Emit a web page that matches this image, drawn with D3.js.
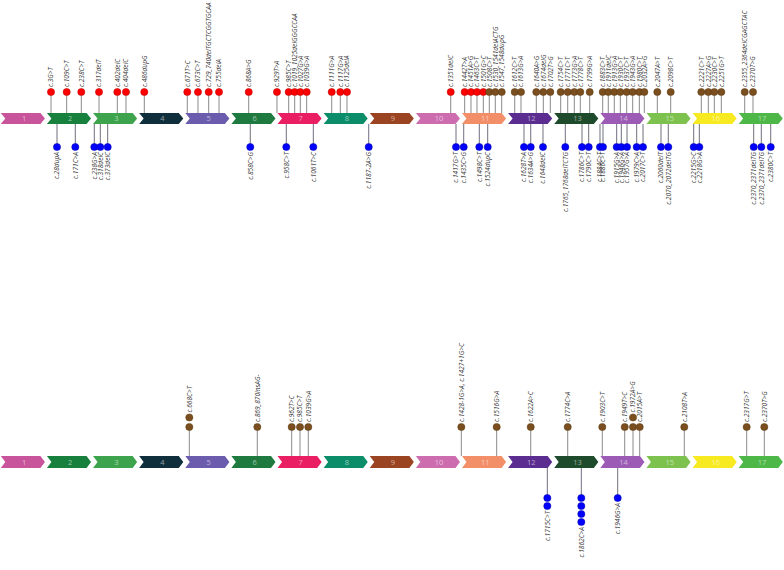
<!DOCTYPE html>
<html><head><meta charset="utf-8">
<script src="https://cdn.jsdelivr.net/npm/d3@7"></script>
<style>body{margin:0;background:#fff}svg{display:block}</style>
</head><body>
<script>
// ---------- DATA ----------
const exonLabels = ["1","2","3","4","5","6","7","8","9","10","11","12","13","14","15","16","17"];
const exonColors = ["#c8559b","#17803d","#3da44d","#0f2f3c","#6b5cae","#1f7a40","#e91e63","#0a8d68","#9b4422","#cd6db0","#f38f68","#5c2d91","#1d4b2b","#9c5bb5","#7dc24f","#f8ea20","#4db848"];

// Panel A (upper track) – variants above the gene (gene-axis position in exon units)
const upperAboveNames = ["c.3G>T","c.109C>T","c.238C>T","c.317delT","c.402delC","c.404delC","c.486dupG",
 "c.671T>C","c.673C>T","c.729_740delTGCTCGGTGCAA","c.755delA","c.868A>G","c.929T>A","c.985C>T",
 "c.1019_1025delGGGCCAA","c.1027G>A","c.1039G>A","c.1111G>A","c.1117G>A","c.1125delA","c.1351delC",
 "c.1442T>A","c.1451A>G","c.1463C>T","c.1501G>C","c.1508C>T","c.1530_1541delACTG","c.1547_1548dupG",
 "c.1612C>T","c.1613G>A","c.1640A>G","c.1674delG","c.1702T>G","c.1754C>T","c.1771C>T","c.1773G>A",
 "c.1778C>T","c.1799G>A","c.1883C>T","c.1911delC","c.1913G>A","c.1930C>T","c.1937C>T","c.1943G>A",
 "c.1980C>T","c.2032A>G","c.2047A>T","c.2098C>T","c.2221C>T","c.2227A>G","c.2230C>T","c.2251G>T",
 "c.2355_2364delCGAGCTAC","c.2370T>G"];
const upperAbovePos = [1.106,1.446,1.763,2.147,2.544,2.732,3.129,
 4.061,4.293,4.525,4.749,5.393,6.006,6.260,
 6.390,6.512,6.650,7.193,7.379,7.524,9.773,
 10.076,10.213,10.343,10.480,10.610,10.740,10.879,
 11.161,11.297,11.629,11.781,11.933,12.158,12.310,12.453,
 12.583,12.787,13.069,13.190,13.320,13.451,13.589,13.719,
 13.863,13.971,14.253,14.543,15.207,15.359,15.489,15.641,
 16.148,16.328];
const upperAboveGroup = ["S1","S1","S1","S1","S1","S1","S1","S1","S1","S1","S1","S1","S1","S1","S1","S1","S1","S1","S1","S1","S1","S1","S1","S1","S1",
 "S2","S2","S2","S2","S2","S2","S2","S2","S2","S2","S2","S2","S2","S2","S2","S2","S2","S2","S2","S2","S2","S2","S2","S2","S2","S2","S2","S2","S2"];

// Panel A – variants below the gene
const upperBelowNames = ["c.28dupA","c.171C>A","c.238G>A","c.318delC","c.373delC","c.858C>G","c.958C>T",
 "c.1061T>C","c.1187-2A>G","c.1417G>T","c.1435C>G","c.1498C>T","c.1524dupC","c.1628T>A","c.1634A>G",
 "c.1648delC","c.1765_1768delTCTG","c.1786C>T","c.1790C>T","c.1884C>T","c.1886C>T","c.1915G>A",
 "c.1946G>A","c.1957G>A","c.1979C>A","c.2017C>T","c.2060delT","c.2070_2072delTG","c.2215G>C",
 "c.2218G>A","c.2370_2371delTG","c.2370_2371delTG","c.2380C>T"];
const upperBelowPos = [1.236,1.633,2.045,2.175,2.335,5.427,6.208,
 6.794,7.995,9.888,10.055,10.393,10.575,11.362,11.508,
 11.774,12.258,12.620,12.765,13.010,13.075,13.372,
 13.472,13.596,13.806,13.943,14.333,14.491,15.042,
 15.164,16.343,16.508,16.712];

// Panel B (lower track) – variants above with carrier counts
const lowerAboveNames = ["c.668C>T","c.869_870insAG-","c.962T>C","c.985C>T","c.1039G>A","c.1428-1G>A, c.1427+1G>C",
 "c.1516G>A","c.1622A>C","c.1774C>A","c.1903C>T","c.1949T>C","c.1972A>G","c.2015A>T","c.2108T>A","c.2317G>T","c.2370T>G"];
const lowerAbovePos = [4.105,5.579,6.325,6.505,6.685,10.003,10.770,11.508,12.310,13.060,13.546,13.726,13.871,14.838,16.191,16.573];
const lowerAboveCount = [2,1,1,1,1,1,1,1,1,1,1,2,1,1,1,1];

// Panel B – variants below with carrier counts
const lowerBelowNames = ["c.1715C>T","c.1862C>A","c.1946G>A"];
const lowerBelowPos = [11.868,12.605,13.394];
const lowerBelowCount = [2,4,1];

// ---------- DRAW ----------
const W = 784, H = 570;
const svg = d3.select("body").append("svg").attr("width", W).attr("height", H);
const x = d3.scaleLinear().domain([0, 17]).range([0, 784]);
const color = d3.scaleOrdinal().domain(exonLabels).range(exonColors);
const dotColor = d3.scaleOrdinal().domain(["S1","S2","B"]).range(["#ff0000","#7a4e1e","#0000ff"]);
const dotStroke = d3.scaleOrdinal().domain(["S1","S2","B"]).range(["#b00000","#5a3810","#0000a0"]);

const FONT = "'Open Sans', 'DejaVu Sans', sans-serif";
const R = 3.6;
const FS = 6.6;

function drawGene(g, top, h) {
  const t = 4.5;
  const mid = top + h / 2, bot = top + h;
  g.selectAll("path.exon").data(exonLabels).join("path")
    .attr("class", "exon")
    .attr("d", (d, i) => {
      const x0 = x(i) + 0.8, x1 = x(i + 1) - 1.2;
      return d3.line()([[x0, top], [x1 - t, top], [x1, mid], [x1 - t, bot], [x0, bot], [x0 + t, mid]]) + "Z";
    })
    .attr("fill", d => color(d));
  g.selectAll("text.exl").data(exonLabels).join("text")
    .attr("class", "exl")
    .attr("x", (d, i) => x(i + 0.5) + 1)
    .attr("y", mid)
    .attr("dy", "0.35em")
    .attr("text-anchor", "middle")
    .attr("font-family", FONT)
    .attr("font-size", 7.5)
    .attr("fill", "rgba(255,255,255,0.55)")
    .text(d => d);
}

function drawAbove(g, names, pos, groups, counts, barTop, dotY, step) {
  const data = names.map((n, i) => ({ n, p: pos[i], g: groups[i], c: counts ? counts[i] : 1 }));
  const stem = g.append("g");
  stem.selectAll("line").data(data).join("line")
    .attr("x1", d => x(d.p)).attr("x2", d => x(d.p))
    .attr("y1", dotY).attr("y2", barTop)
    .attr("stroke", "#8a8a8a").attr("stroke-width", 1);
  data.forEach(d => {
    for (let k = 0; k < d.c; k++) {
      g.append("circle").attr("cx", x(d.p)).attr("cy", dotY - k * step).attr("r", R)
        .attr("fill", dotColor(d.g)).attr("stroke", dotStroke(d.g)).attr("stroke-width", 0.5);
    }
  });
  g.selectAll("text.lab").data(data).join("text")
    .attr("class", "lab")
    .attr("transform", d => `translate(${x(d.p)},${dotY - (d.c - 1) * step - 5}) rotate(-90)`)
    .attr("dy", "0.35em")
    .attr("text-anchor", "start")
    .attr("font-family", FONT).attr("font-style", "italic")
    .attr("font-size", FS).attr("fill", "#333")
    .text(d => d.n);
}

function drawBelow(g, names, pos, counts, barBot, dotY, step) {
  const data = names.map((n, i) => ({ n, p: pos[i], c: counts ? counts[i] : 1 }));
  g.append("g").selectAll("line").data(data).join("line")
    .attr("x1", d => x(d.p)).attr("x2", d => x(d.p))
    .attr("y1", barBot).attr("y2", dotY)
    .attr("stroke", "#6f6f80").attr("stroke-width", 1);
  data.forEach(d => {
    for (let k = 0; k < d.c; k++) {
      g.append("circle").attr("cx", x(d.p)).attr("cy", dotY + k * step).attr("r", R)
        .attr("fill", dotColor("B")).attr("stroke", dotStroke("B")).attr("stroke-width", 0.5);
    }
  });
  g.selectAll("text.lab").data(data).join("text")
    .attr("class", "lab")
    .attr("transform", d => `translate(${x(d.p)},${dotY + (d.c - 1) * step + 5}) rotate(-90)`)
    .attr("dy", "0.35em")
    .attr("text-anchor", "end")
    .attr("font-family", FONT).attr("font-style", "italic")
    .attr("font-size", FS).attr("fill", "#333")
    .text(d => d.n);
}

// upper panel
const gA = svg.append("g");
const topA = 113, hA = 11;
drawAbove(gA.append("g"), upperAboveNames, upperAbovePos, upperAboveGroup, null, topA, 92, 9);
drawBelow(gA.append("g"), upperBelowNames, upperBelowPos, null, topA + hA, 147, 8);
drawGene(gA.append("g"), topA, hA);

// lower panel
const gB = svg.append("g");
const topB = 456, hB = 12;
drawAbove(gB.append("g"), lowerAboveNames, lowerAbovePos, lowerAboveNames.map(() => "S2"), lowerAboveCount, topB, 427, 9.5);
drawBelow(gB.append("g"), lowerBelowNames, lowerBelowPos, lowerBelowCount, topB + hB, 498, 8);
drawGene(gB.append("g"), topB, hB);
</script>
</body></html>
